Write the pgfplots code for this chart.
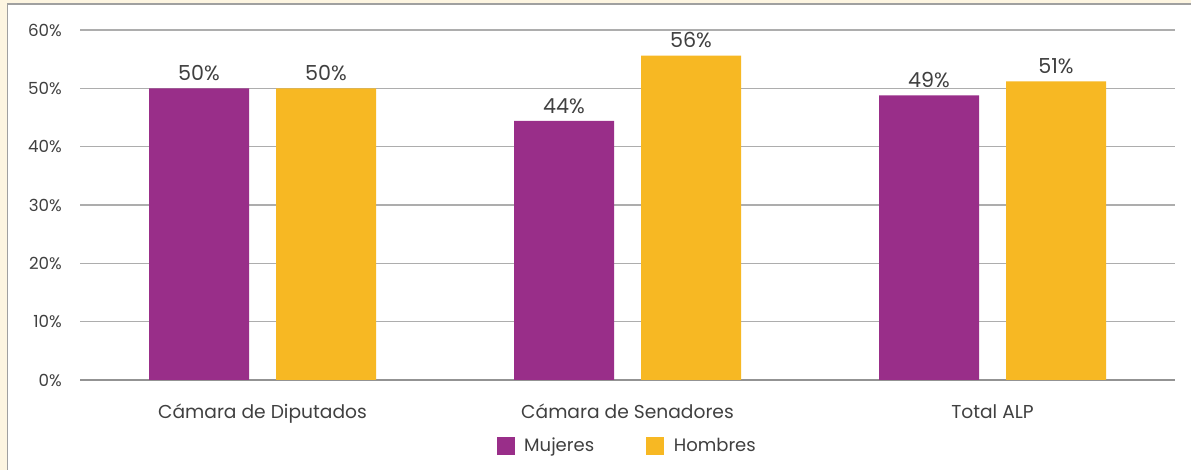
\documentclass[border=0pt]{standalone}
\usepackage{pgfplots}
\pgfplotsset{compat=1.18}
\usepackage{fontspec}
\setmainfont{Poppins}

\definecolor{mujer}{HTML}{992E89}
\definecolor{hombre}{HTML}{F7B823}
\definecolor{rejilla}{HTML}{ADADAD}
\definecolor{texto}{HTML}{404040}
\definecolor{crema}{HTML}{FDF5E1}
\definecolor{marco}{HTML}{A0A0A0}

\begin{document}
\begin{tikzpicture}[x=0.75pt,y=0.75pt]
\useasboundingbox (0,0) rectangle (1191,470);
\fill[crema] (0,0) rectangle (1191,470);
\filldraw[fill=white, draw=marco, line width=1.2pt] (7.5,-10) rectangle (1210,466);
\begin{axis}[
    at={(60pt,67.5pt)}, anchor=south west,
    scale only axis,
    width=821.25pt, height=262.5pt,
    ybar, bar width=75pt, ybar=20.25pt,
    xmin=-0.5, xmax=2.5,
    ymin=0, ymax=60,
    xtick={0,1,2},
    xticklabels={Cámara de Diputados, Cámara de Senadores, Total ALP},
    ytick={0,10,20,30,40,50,60},
    yticklabel={\pgfmathprintnumber{\tick}\%},
    ymajorgrids,
    grid style={rejilla, line width=0.8pt},
    separate axis lines,
    axis x line*=bottom, axis y line*=left,
    x axis line style={-, color=rejilla!85!black, line width=0.8pt},
    y axis line style={draw=none},
    major tick length=0pt,
    tick label style={color=texto},
    yticklabel style={font=\fontsize{12.5}{14}\selectfont, inner sep=0pt, xshift=-13.5pt},
    xticklabel style={font=\fontsize{14}{16}\selectfont, inner sep=0pt, yshift=-18pt},
    /pgf/number format/assume math mode=true,
    nodes near coords={\pgfmathprintnumber[fixed,precision=0]{\pgfplotspointmeta}\%},
    nodes near coords style={font=\fontsize{15.5}{17}\selectfont, color=texto, inner sep=0pt, yshift=5.5pt},
    legend style={at={(0.5,-0.1886)}, anchor=center, draw=none, fill=none,
        legend columns=2, inner sep=0pt,
        font=\fontsize{13.5}{15}\selectfont, text=texto,
        /tikz/every even column/.append style={column sep=37pt}},
    legend image code/.code={\path[#1, draw=none] (0pt,-6.75pt) rectangle (13.5pt,6.75pt);
        \path (18.75pt,0pt);},
]
\addplot[fill=mujer, draw=none] coordinates {(0,50) (1,44.4) (2,48.8)};
\addlegendentry{Mujeres}
\addplot[fill=hombre, draw=none] coordinates {(0,50) (1,55.6) (2,51.2)};
\addlegendentry{Hombres}
\end{axis}
\end{tikzpicture}
\end{document}
